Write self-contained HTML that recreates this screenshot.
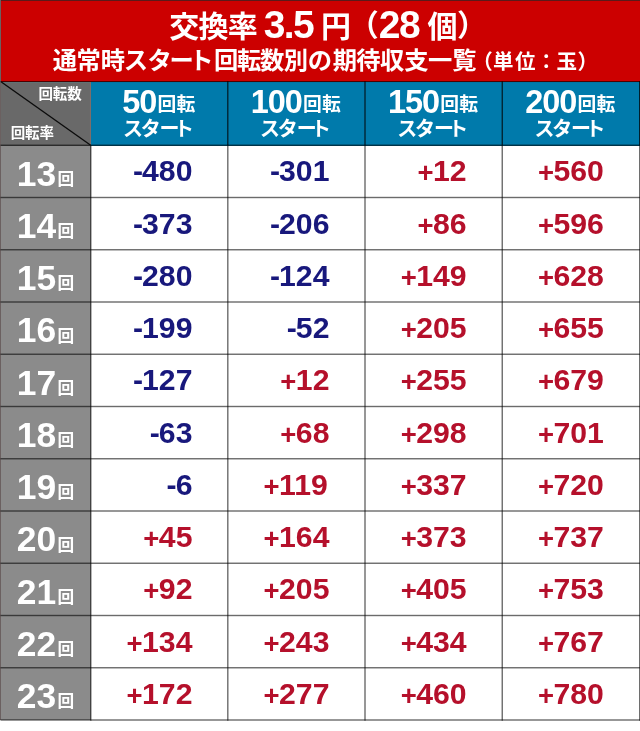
<!DOCTYPE html>
<html lang="ja"><head><meta charset="utf-8"><title>交換率 3.5 円（28 個）</title>
<style>
html,body{margin:0;padding:0;background:#fff}
body{width:640px;height:731px;position:relative;overflow:hidden;font-family:"Liberation Sans",sans-serif;font-weight:bold}
#p{position:absolute;left:0;top:0;width:640px;height:731px;overflow:hidden}
#p div{position:absolute}
.t{position:absolute;will-change:transform;white-space:nowrap;font-weight:bold;font-family:"Liberation Sans",sans-serif}
</style></head><body><div id="p">
<div style="left:0;top:0;width:640px;height:720px;background:#fff"></div>
<div style="left:0;top:0;width:1px;height:720px;background:#6b6060"></div>
<div style="left:1px;top:0;width:639px;height:1px;background:#5a1a1a"></div>
<div style="left:1px;top:1px;width:639px;height:81px;background:#cc0000"></div>
<div style="left:1px;top:82px;width:90px;height:64px;background:#696969"></div>
<div style="left:91px;top:82px;width:549px;height:64px;background:#007aab"></div>
<div style="left:1px;top:82px;width:89px;height:1px;background:#62787a"></div>
<div style="left:1px;top:146px;width:90px;height:574px;background:#8b8b8b"></div>
<svg width="640" height="731" viewBox="0 0 640 731" style="position:absolute;left:0;top:0;will-change:transform" font-family="Liberation Sans, Noto Sans CJK JP, sans-serif" font-weight="bold"><rect x="0.50" y="81.15" width="639.50" height="0.90" fill="rgba(0,0,0,0.72)"/><rect x="0.50" y="144.60" width="639.50" height="1.30" fill="rgba(0,0,0,0.64)"/><rect x="0.50" y="196.80" width="639.50" height="1.40" fill="rgba(0,0,0,0.58)"/><rect x="0.50" y="249.05" width="639.50" height="1.40" fill="rgba(0,0,0,0.58)"/><rect x="0.50" y="301.30" width="639.50" height="1.40" fill="rgba(0,0,0,0.58)"/><rect x="0.50" y="353.55" width="639.50" height="1.40" fill="rgba(0,0,0,0.58)"/><rect x="0.50" y="405.80" width="639.50" height="1.40" fill="rgba(0,0,0,0.58)"/><rect x="0.50" y="458.05" width="639.50" height="1.40" fill="rgba(0,0,0,0.58)"/><rect x="0.50" y="510.30" width="639.50" height="1.40" fill="rgba(0,0,0,0.58)"/><rect x="0.50" y="562.55" width="639.50" height="1.40" fill="rgba(0,0,0,0.58)"/><rect x="0.50" y="614.80" width="639.50" height="1.40" fill="rgba(0,0,0,0.58)"/><rect x="0.50" y="667.05" width="639.50" height="1.40" fill="rgba(0,0,0,0.58)"/><rect x="0.50" y="719.30" width="639.50" height="1.40" fill="rgba(0,0,0,0.58)"/><rect x="89.95" y="82.00" width="0.90" height="62.80" fill="rgba(150,115,105,0.55)"/><rect x="90.10" y="145.30" width="1.40" height="575.40" fill="rgba(0,0,0,0.58)"/><rect x="227.18" y="81.20" width="1.25" height="64.10" fill="rgba(0,0,0,0.78)"/><rect x="227.10" y="145.30" width="1.40" height="575.40" fill="rgba(0,0,0,0.58)"/><rect x="364.38" y="81.20" width="1.25" height="64.10" fill="rgba(0,0,0,0.78)"/><rect x="364.30" y="145.30" width="1.40" height="575.40" fill="rgba(0,0,0,0.58)"/><rect x="501.62" y="81.20" width="1.25" height="64.10" fill="rgba(0,0,0,0.78)"/><rect x="501.55" y="145.30" width="1.40" height="575.40" fill="rgba(0,0,0,0.58)"/><rect x="639.05" y="81.20" width="1.00" height="64.10" fill="rgba(0,0,0,0.78)"/><rect x="639.05" y="145.30" width="1.00" height="575.40" fill="rgba(0,0,0,0.6)"/><text x="169.2 198.5 227.8" y="36.5" font-size="30.0" fill="#fff">交換率</text><g transform="translate(263.80 38.30) scale(1.0000 1.0000)" fill="#fff"><text font-size="39.00" letter-spacing="-1.700">3.5</text></g><text x="321.0" y="36.5" font-size="30.0" fill="#fff">円</text><text x="348.7" y="36.3" font-size="30.0" fill="#fff">（</text><g transform="translate(378.75 38.30) scale(1.0000 1.0000)" fill="#fff"><text font-size="39.00" letter-spacing="-1.400">28</text></g><text x="427.4" y="36.5" font-size="30.0" fill="#fff">個</text><text x="457.0" y="36.3" font-size="30.0" fill="#fff">）</text><text x="52.75 76.5 100.85 123.72 147.54 169.46 189.33 213.95 236.95 260.05 283.75 307.69 332.65 356.15 380 404.25 428.05 452.25" y="68.5" font-size="24.3" fill="#fff">通常時スタート回転数別の期待収支一覧</text><text x="472.2" y="68.6" font-size="20.5" fill="#fff">（</text><text x="492.9" y="69.1" font-size="20.5" fill="#fff">単</text><text x="514.9" y="69.1" font-size="20.5" fill="#fff">位</text><text x="536.3" y="69" font-size="20" fill="#fff">：</text><text x="556.4" y="69.1" font-size="20.5" fill="#fff">玉</text><text x="577.6" y="68.6" font-size="20.5" fill="#fff">）</text><text x="38.55 52.85 67.15" y="99.3" font-size="14.5" fill="#fff">回転数</text><text x="10.8 25.1 39.4" y="138.4" font-size="14.5" fill="#fff">回転率</text><g transform="translate(122.19 113.20) scale(0.9900 1.0000)" fill="#fff"><text font-size="32.80" letter-spacing="-1.070">50</text></g><text x="157.58 176.48" y="111.0" font-size="18.8" fill="#fff">回転</text><text x="122.95 140.75 159.55 173.95" y="135.5" font-size="20.0" fill="#fff">スタート</text><g transform="translate(250.71 113.20) scale(0.9900 1.0000)" fill="#fff"><text font-size="32.80" letter-spacing="-1.070">100</text></g><text x="303.11 322.01" y="111.0" font-size="18.8" fill="#fff">回転</text><text x="260.05 277.85 296.65 311.05" y="135.5" font-size="20.0" fill="#fff">スタート</text><g transform="translate(387.94 113.20) scale(0.9900 1.0000)" fill="#fff"><text font-size="32.80" letter-spacing="-1.070">150</text></g><text x="440.33 459.23" y="111.0" font-size="18.8" fill="#fff">回転</text><text x="397.28 415.08 433.88 448.28" y="135.5" font-size="20.0" fill="#fff">スタート</text><g transform="translate(525.15 113.20) scale(0.9900 1.0000)" fill="#fff"><text font-size="32.80" letter-spacing="-1.070">200</text></g><text x="577.55 596.45" y="111.0" font-size="18.8" fill="#fff">回転</text><text x="534.48 552.27 571.08 585.47" y="135.5" font-size="20.0" fill="#fff">スタート</text><g transform="translate(16.71 185.60) scale(1.0000 1.0000)" fill="#fff"><text font-size="35.40">13</text></g><text x="57.4" y="184.9" font-size="16.7" fill="#fff">回</text><g transform="translate(132.01 181.45) scale(1.0000 1.0000)" fill="#18187c"><text font-size="30.20"><tspan dx="0.9">-</tspan><tspan dx="-0.9">480</tspan></text></g><g transform="translate(269.01 181.45) scale(1.0000 1.0000)" fill="#18187c"><text font-size="30.20"><tspan dx="0.9">-</tspan><tspan dx="-0.9">301</tspan></text></g><g transform="translate(415.42 181.45) scale(1.0000 1.0000)" fill="#b5102b"><text font-size="30.20"><tspan dx="2.08" dy="1.00" font-size="27.48">+</tspan><tspan dx="-0.49" dy="-1.00">12</tspan></text></g><g transform="translate(535.88 181.45) scale(1.0000 1.0000)" fill="#b5102b"><text font-size="30.20"><tspan dx="2.08" dy="1.00" font-size="27.48">+</tspan><tspan dx="-0.49" dy="-1.00">560</tspan></text></g><g transform="translate(16.71 237.85) scale(1.0000 1.0000)" fill="#fff"><text font-size="35.40">14</text></g><text x="57.4" y="237.2" font-size="16.7" fill="#fff">回</text><g transform="translate(132.01 233.70) scale(1.0000 1.0000)" fill="#18187c"><text font-size="30.20"><tspan dx="0.9">-</tspan><tspan dx="-0.9">373</tspan></text></g><g transform="translate(269.01 233.70) scale(1.0000 1.0000)" fill="#18187c"><text font-size="30.20"><tspan dx="0.9">-</tspan><tspan dx="-0.9">206</tspan></text></g><g transform="translate(415.42 233.70) scale(1.0000 1.0000)" fill="#b5102b"><text font-size="30.20"><tspan dx="2.08" dy="1.00" font-size="27.48">+</tspan><tspan dx="-0.49" dy="-1.00">86</tspan></text></g><g transform="translate(535.88 233.70) scale(1.0000 1.0000)" fill="#b5102b"><text font-size="30.20"><tspan dx="2.08" dy="1.00" font-size="27.48">+</tspan><tspan dx="-0.49" dy="-1.00">596</tspan></text></g><g transform="translate(16.71 290.10) scale(1.0000 1.0000)" fill="#fff"><text font-size="35.40">15</text></g><text x="57.4" y="289.4" font-size="16.7" fill="#fff">回</text><g transform="translate(132.01 285.95) scale(1.0000 1.0000)" fill="#18187c"><text font-size="30.20"><tspan dx="0.9">-</tspan><tspan dx="-0.9">280</tspan></text></g><g transform="translate(269.01 285.95) scale(1.0000 1.0000)" fill="#18187c"><text font-size="30.20"><tspan dx="0.9">-</tspan><tspan dx="-0.9">124</tspan></text></g><g transform="translate(398.63 285.95) scale(1.0000 1.0000)" fill="#b5102b"><text font-size="30.20"><tspan dx="2.08" dy="1.00" font-size="27.48">+</tspan><tspan dx="-0.49" dy="-1.00">149</tspan></text></g><g transform="translate(535.88 285.95) scale(1.0000 1.0000)" fill="#b5102b"><text font-size="30.20"><tspan dx="2.08" dy="1.00" font-size="27.48">+</tspan><tspan dx="-0.49" dy="-1.00">628</tspan></text></g><g transform="translate(16.71 342.35) scale(1.0000 1.0000)" fill="#fff"><text font-size="35.40">16</text></g><text x="57.4" y="341.6" font-size="16.7" fill="#fff">回</text><g transform="translate(132.01 338.20) scale(1.0000 1.0000)" fill="#18187c"><text font-size="30.20"><tspan dx="0.9">-</tspan><tspan dx="-0.9">199</tspan></text></g><g transform="translate(285.80 338.20) scale(1.0000 1.0000)" fill="#18187c"><text font-size="30.20"><tspan dx="0.9">-</tspan><tspan dx="-0.9">52</tspan></text></g><g transform="translate(398.63 338.20) scale(1.0000 1.0000)" fill="#b5102b"><text font-size="30.20"><tspan dx="2.08" dy="1.00" font-size="27.48">+</tspan><tspan dx="-0.49" dy="-1.00">205</tspan></text></g><g transform="translate(535.88 338.20) scale(1.0000 1.0000)" fill="#b5102b"><text font-size="30.20"><tspan dx="2.08" dy="1.00" font-size="27.48">+</tspan><tspan dx="-0.49" dy="-1.00">655</tspan></text></g><g transform="translate(16.71 394.60) scale(1.0000 1.0000)" fill="#fff"><text font-size="35.40">17</text></g><text x="57.4" y="393.9" font-size="16.7" fill="#fff">回</text><g transform="translate(132.01 390.45) scale(1.0000 1.0000)" fill="#18187c"><text font-size="30.20"><tspan dx="0.9">-</tspan><tspan dx="-0.9">127</tspan></text></g><g transform="translate(278.22 390.45) scale(1.0000 1.0000)" fill="#b5102b"><text font-size="30.20"><tspan dx="2.08" dy="1.00" font-size="27.48">+</tspan><tspan dx="-0.49" dy="-1.00">12</tspan></text></g><g transform="translate(398.63 390.45) scale(1.0000 1.0000)" fill="#b5102b"><text font-size="30.20"><tspan dx="2.08" dy="1.00" font-size="27.48">+</tspan><tspan dx="-0.49" dy="-1.00">255</tspan></text></g><g transform="translate(535.88 390.45) scale(1.0000 1.0000)" fill="#b5102b"><text font-size="30.20"><tspan dx="2.08" dy="1.00" font-size="27.48">+</tspan><tspan dx="-0.49" dy="-1.00">679</tspan></text></g><g transform="translate(16.71 446.85) scale(1.0000 1.0000)" fill="#fff"><text font-size="35.40">18</text></g><text x="57.4" y="446.1" font-size="16.7" fill="#fff">回</text><g transform="translate(148.80 442.70) scale(1.0000 1.0000)" fill="#18187c"><text font-size="30.20"><tspan dx="0.9">-</tspan><tspan dx="-0.9">63</tspan></text></g><g transform="translate(278.22 442.70) scale(1.0000 1.0000)" fill="#b5102b"><text font-size="30.20"><tspan dx="2.08" dy="1.00" font-size="27.48">+</tspan><tspan dx="-0.49" dy="-1.00">68</tspan></text></g><g transform="translate(398.63 442.70) scale(1.0000 1.0000)" fill="#b5102b"><text font-size="30.20"><tspan dx="2.08" dy="1.00" font-size="27.48">+</tspan><tspan dx="-0.49" dy="-1.00">298</tspan></text></g><g transform="translate(535.88 442.70) scale(1.0000 1.0000)" fill="#b5102b"><text font-size="30.20"><tspan dx="2.08" dy="1.00" font-size="27.48">+</tspan><tspan dx="-0.49" dy="-1.00">701</tspan></text></g><g transform="translate(16.71 499.10) scale(1.0000 1.0000)" fill="#fff"><text font-size="35.40">19</text></g><text x="57.4" y="498.4" font-size="16.7" fill="#fff">回</text><g transform="translate(165.60 494.95) scale(1.0000 1.0000)" fill="#18187c"><text font-size="30.20"><tspan dx="0.9">-</tspan><tspan dx="-0.9">6</tspan></text></g><g transform="translate(261.43 494.95) scale(1.0000 1.0000)" fill="#b5102b"><text font-size="30.20"><tspan dx="2.08" dy="1.00" font-size="27.48">+</tspan><tspan dx="-0.49" dy="-1.00">119</tspan></text></g><g transform="translate(398.63 494.95) scale(1.0000 1.0000)" fill="#b5102b"><text font-size="30.20"><tspan dx="2.08" dy="1.00" font-size="27.48">+</tspan><tspan dx="-0.49" dy="-1.00">337</tspan></text></g><g transform="translate(535.88 494.95) scale(1.0000 1.0000)" fill="#b5102b"><text font-size="30.20"><tspan dx="2.08" dy="1.00" font-size="27.48">+</tspan><tspan dx="-0.49" dy="-1.00">720</tspan></text></g><g transform="translate(16.71 551.35) scale(1.0000 1.0000)" fill="#fff"><text font-size="35.40">20</text></g><text x="57.4" y="550.6" font-size="16.7" fill="#fff">回</text><g transform="translate(141.22 547.20) scale(1.0000 1.0000)" fill="#b5102b"><text font-size="30.20"><tspan dx="2.08" dy="1.00" font-size="27.48">+</tspan><tspan dx="-0.49" dy="-1.00">45</tspan></text></g><g transform="translate(261.43 547.20) scale(1.0000 1.0000)" fill="#b5102b"><text font-size="30.20"><tspan dx="2.08" dy="1.00" font-size="27.48">+</tspan><tspan dx="-0.49" dy="-1.00">164</tspan></text></g><g transform="translate(398.63 547.20) scale(1.0000 1.0000)" fill="#b5102b"><text font-size="30.20"><tspan dx="2.08" dy="1.00" font-size="27.48">+</tspan><tspan dx="-0.49" dy="-1.00">373</tspan></text></g><g transform="translate(535.88 547.20) scale(1.0000 1.0000)" fill="#b5102b"><text font-size="30.20"><tspan dx="2.08" dy="1.00" font-size="27.48">+</tspan><tspan dx="-0.49" dy="-1.00">737</tspan></text></g><g transform="translate(16.71 603.60) scale(1.0000 1.0000)" fill="#fff"><text font-size="35.40">21</text></g><text x="57.4" y="602.9" font-size="16.7" fill="#fff">回</text><g transform="translate(141.22 599.45) scale(1.0000 1.0000)" fill="#b5102b"><text font-size="30.20"><tspan dx="2.08" dy="1.00" font-size="27.48">+</tspan><tspan dx="-0.49" dy="-1.00">92</tspan></text></g><g transform="translate(261.43 599.45) scale(1.0000 1.0000)" fill="#b5102b"><text font-size="30.20"><tspan dx="2.08" dy="1.00" font-size="27.48">+</tspan><tspan dx="-0.49" dy="-1.00">205</tspan></text></g><g transform="translate(398.63 599.45) scale(1.0000 1.0000)" fill="#b5102b"><text font-size="30.20"><tspan dx="2.08" dy="1.00" font-size="27.48">+</tspan><tspan dx="-0.49" dy="-1.00">405</tspan></text></g><g transform="translate(535.88 599.45) scale(1.0000 1.0000)" fill="#b5102b"><text font-size="30.20"><tspan dx="2.08" dy="1.00" font-size="27.48">+</tspan><tspan dx="-0.49" dy="-1.00">753</tspan></text></g><g transform="translate(16.71 655.85) scale(1.0000 1.0000)" fill="#fff"><text font-size="35.40">22</text></g><text x="57.4" y="655.1" font-size="16.7" fill="#fff">回</text><g transform="translate(124.43 651.70) scale(1.0000 1.0000)" fill="#b5102b"><text font-size="30.20"><tspan dx="2.08" dy="1.00" font-size="27.48">+</tspan><tspan dx="-0.49" dy="-1.00">134</tspan></text></g><g transform="translate(261.43 651.70) scale(1.0000 1.0000)" fill="#b5102b"><text font-size="30.20"><tspan dx="2.08" dy="1.00" font-size="27.48">+</tspan><tspan dx="-0.49" dy="-1.00">243</tspan></text></g><g transform="translate(398.63 651.70) scale(1.0000 1.0000)" fill="#b5102b"><text font-size="30.20"><tspan dx="2.08" dy="1.00" font-size="27.48">+</tspan><tspan dx="-0.49" dy="-1.00">434</tspan></text></g><g transform="translate(535.88 651.70) scale(1.0000 1.0000)" fill="#b5102b"><text font-size="30.20"><tspan dx="2.08" dy="1.00" font-size="27.48">+</tspan><tspan dx="-0.49" dy="-1.00">767</tspan></text></g><g transform="translate(16.71 708.10) scale(1.0000 1.0000)" fill="#fff"><text font-size="35.40">23</text></g><text x="57.4" y="707.4" font-size="16.7" fill="#fff">回</text><g transform="translate(124.43 703.95) scale(1.0000 1.0000)" fill="#b5102b"><text font-size="30.20"><tspan dx="2.08" dy="1.00" font-size="27.48">+</tspan><tspan dx="-0.49" dy="-1.00">172</tspan></text></g><g transform="translate(261.43 703.95) scale(1.0000 1.0000)" fill="#b5102b"><text font-size="30.20"><tspan dx="2.08" dy="1.00" font-size="27.48">+</tspan><tspan dx="-0.49" dy="-1.00">277</tspan></text></g><g transform="translate(398.63 703.95) scale(1.0000 1.0000)" fill="#b5102b"><text font-size="30.20"><tspan dx="2.08" dy="1.00" font-size="27.48">+</tspan><tspan dx="-0.49" dy="-1.00">460</tspan></text></g><g transform="translate(535.88 703.95) scale(1.0000 1.0000)" fill="#b5102b"><text font-size="30.20"><tspan dx="2.08" dy="1.00" font-size="27.48">+</tspan><tspan dx="-0.49" dy="-1.00">780</tspan></text></g><line x1="1" y1="81.7" x2="90.7" y2="145.3" stroke="#0c0c0c" stroke-width="1.35"/></svg>
</div></body></html>
